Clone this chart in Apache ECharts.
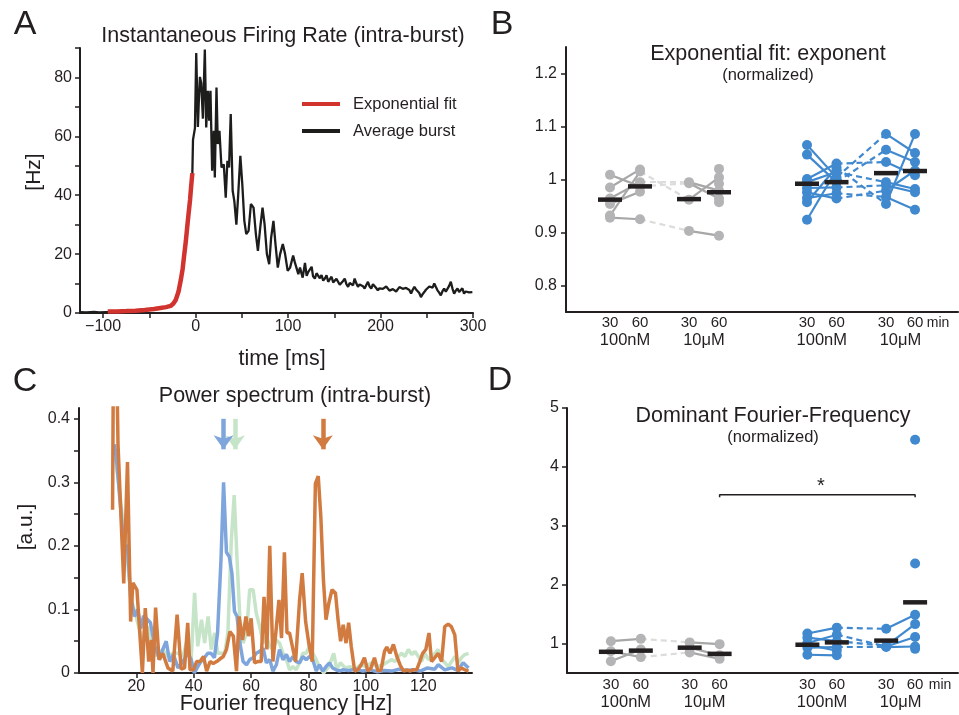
<!DOCTYPE html>
<html>
<head>
<meta charset="utf-8">
<script src="https://cdn.jsdelivr.net/npm/echarts@6.0.0/dist/echarts.min.js"></script>
<style>html,body{margin:0;padding:0;background:#fff}#chart{width:959px;height:715px}</style>
</head>
<body>
<div id="chart"></div>
<script>
// ---- panel A: average burst (ms, Hz) ----
const burstAvg = [
  [-125, 0.3], [-118, 0.2], [-110, 0.4], [-104, 0.2], [-97, 0.3], [-80, 0.5], [-60, 0.9], [-40, 1.6],
  [-27, 2.3], [-21.5, 4.4], [-16, 11.2], [-12.5, 19.2], [-9, 29.4], [-6, 38.4], [-3.5, 47.5],
  [-2.8, 58.8], [-0.7, 62.8], [0.7, 88.3], [2.5, 63.2], [3.5, 72], [4.7, 80.2], [6.1, 78], [7.9, 66],
  [10.0, 89.5], [11.5, 63], [13.3, 75.5], [14.7, 65.3], [16.1, 75.5], [17.9, 48.3], [19.7, 61.9],
  [20.8, 46], [22.6, 76.6], [24.0, 57.4], [25.8, 61.9], [28.0, 49.4], [30.5, 50.5], [32.6, 39.2],
  [34.4, 51.7], [36.2, 49.4], [38.0, 67.6], [40.1, 41.5], [41.9, 38], [44.1, 30], [45.9, 39.2],
  [48.4, 53.4], [50.5, 43.8], [52.7, 31.3], [54.8, 26.8], [57.3, 27.9], [59.8, 37], [62.7, 35.8],
  [65.2, 26.8], [67.4, 21.1], [69.9, 29], [72.4, 35.8], [74.6, 30.2], [77.1, 20], [79.6, 16.6],
  [81.7, 25.6], [84.2, 31.3], [86.4, 23.4], [88.9, 15.4], [91.4, 20], [94.3, 23.4], [96.8, 20],
  [99.6, 14.3], [102.2, 15.4], [105.5, 19.5], [107.5, 17], [109.3, 17.5], [111.1, 13.2], [112.9, 15.4],
  [115.8, 12.0], [118.3, 17], [120.1, 12.6], [121.9, 14], [123, 14.3], [125.5, 15.7], [127, 12.5],
  [129.0, 11.7], [130.8, 13.5], [132.6, 14], [134.4, 11.8], [136.2, 12.9], [138, 11], [139.8, 11.7],
  [141.6, 12.8], [143.4, 10.6], [145.2, 11.5], [147.0, 12.3], [148.8, 10.4], [150.5, 10.0], [152.3, 11.6],
  [154.1, 11.1], [155.9, 9.6], [157.7, 10.0], [159.5, 10.9], [161.3, 11.7], [163.1, 9.8], [164.9, 8.9],
  [166.7, 10.2], [168.5, 10.6], [170.3, 9.4], [172.0, 11.7], [173.8, 10.1], [175.6, 8.9], [177.4, 9.7],
  [179.2, 10.0], [181, 9.1], [182.8, 8.3], [184.6, 9.5], [186.4, 10.6], [188.2, 9], [190.0, 8.3],
  [191.8, 9.8], [193.5, 9.4], [195.3, 8.5], [197.1, 7.7], [198.9, 8.4], [200.7, 8.9], [202.5, 8.2],
  [204.3, 7.7], [206.1, 9.0], [207.9, 8.3], [209.7, 7.6], [211.5, 7.1], [213.3, 8.1], [215.1, 8.3],
  [216.9, 7.3], [218.6, 7.7], [220.4, 8.8], [222.2, 9.4], [224, 8.2], [225.8, 7.7], [227.6, 8.5],
  [229.4, 8.9], [231.2, 7.8], [233.0, 6.6], [234.8, 7.9], [236.6, 8.9], [238.4, 8.0], [240.1, 7.7],
  [241.9, 6.8], [243.7, 5.4], [245.5, 6.4], [247.3, 7.1], [249.1, 7.9], [250.9, 8.3], [252.7, 9.0],
  [254.5, 9.4], [256.3, 8.6], [258.1, 10.0], [259.9, 8.8], [261.6, 7.7], [263.4, 6.9], [265.2, 6.0],
  [267, 7.4], [268.8, 8.3], [270.6, 7.2], [272.4, 7.7], [274.2, 9.2], [276.0, 10.6], [277.8, 8.3],
  [279.6, 6.6], [281.4, 7.6], [283.2, 8.3], [285, 7.1], [286.7, 7.7], [288.5, 8.4], [290.3, 6.6],
  [292.1, 7.3], [293.9, 7.7], [295.7, 7.0], [297.5, 6.6], [299.3, 7.1]
];
const burstFit = [
  [-95, 0.5], [-85, 0.55], [-75, 0.65], [-65, 0.8], [-55, 1.05], [-45, 1.35], [-38, 1.7], [-32, 2.0],
  [-27, 2.4], [-24, 3.2], [-21.5, 4.4], [-18.5, 7.2], [-16, 11.2], [-14, 15], [-12.5, 19.2],
  [-10.5, 24.5], [-9, 29.4], [-7.5, 34], [-6, 38.4], [-4.8, 43], [-3.5, 47.5]
];
const aTickX = [-100, -50, 0, 50, 100, 150, 200, 250, 300];
const aLabelX = [-100, 0, 100, 200, 300];
const aTickY = [0, 10, 20, 30, 40, 50, 60, 70, 80, 90];
const aLabelY = [0, 20, 40, 60, 80];

// ---- panels B and D: per-subject values at [30min 100nM, 60min 100nM, 30min 10uM, 60min 10uM] ----
const expGray = [
  [1.009, 0.987, 0.993, 0.964],
  [0.985, 1.019, null, null],
  [0.964, 0.995, 0.995, 0.979],
  [0.954, 0.977, null, null],
  [0.932, 1.015, 0.962, 1.004],
  [0.928, 0.925, 0.903, 0.894],
  [null, null, null, 1.020],
  [null, null, null, 0.992],
  [null, null, null, 0.957]
];
const expBlue = [
  [1.065, 1.004, 1.086, 1.050],
  [1.047, 0.995, 1.056, 1.033],
  [1.001, 1.030, 1.033, 1.008],
  [0.995, 1.014, 0.995, 0.982],
  [0.984, 0.985, 0.989, 0.976],
  [0.976, 0.964, 0.979, 1.017],
  [0.965, 0.974, 0.967, 0.943],
  [0.957, 1.023, 0.954, 1.086],
  [0.924, 1.018, null, null]
];
const expMeans = [0.962, 0.987, 0.963, 0.976, 0.992, 0.995, 1.012, 1.016];

const freqGray = [
  [1.04, 1.08, 1.02, 0.99],
  [0.87, 0.77, 0.85, 0.74],
  [0.70, 0.90, null, null],
  [null, null, 0.93, 0.80]
];
const freqBlue = [
  [1.17, 1.27, 1.25, 1.49],
  [1.10, 1.04, 0.96, 1.33],
  [1.01, 1.15, 0.95, 1.11],
  [0.93, 0.94, 0.94, 0.95],
  [0.81, 0.80, null, null],
  [0.98, 0.88, null, null],
  [null, null, null, 4.46],
  [null, null, null, 2.36],
  [null, null, null, 0.91]
];
const freqMeans = [0.86, 0.88, 0.93, 0.825, 0.98, 1.02, 1.05, 1.70];
const sigPair = [3, 7];      // 10uM 60min (gray) vs 10uM 60min (blue)
const sigLevel = 3.525;

const minLabels = ['30', '60', '30', '60', '30', '60', '30', '60'];
const groupLabels = ['100nM', '10\u03bcM', '100nM', '10\u03bcM'];
const bTickY = [0.8, 0.9, 1, 1.1, 1.2];
const dTickY = [1, 2, 3, 4, 5];

// ---- panel C: power spectra [Hz, a.u.] ----
const specGreen = [
  [12.6, 0.34], [13.8, 0.3], [15, 0.25], [16.2, 0.22], [17.4, 0.15], [18.6, 0.11], [19.8, 0.09],
  [21, 0.07], [22.3, 0.047], [23.5, 0.06], [24.0, 0.073], [25.8, 0.026], [27.5, 0.03], [29.2, 0.037],
  [31, 0.026], [32.7, 0.031], [34.5, 0.031], [36.2, 0.026], [37.4, 0.047], [39.1, 0.021], [40.3, 0.126],
  [41.4, 0.042], [42.7, 0.084], [43.8, 0.047], [45.0, 0.089], [46.1, 0.037], [47.3, 0.063], [48.4, 0.031],
  [49.6, 0.031], [50.8, 0.031], [51.9, 0.063], [53.1, 0.209], [54.1, 0.28], [55.1, 0.178], [56.1, 0.084],
  [57.2, 0.047], [58.4, 0.063], [59.5, 0.131], [60.7, 0.131], [61.8, 0.094], [63.0, 0.073], [64.2, 0.047],
  [65.3, 0.058], [66.5, 0.042], [67.6, 0.037], [68.8, 0.052], [69.9, 0.047], [71.1, 0.031], [72.3, 0.021],
  [73.4, 0.005], [74.6, 0.01], [75.7, 0.005], [76.9, 0.016], [78.0, 0.031], [79.2, 0.031], [80.3, 0.042],
  [81.5, 0.031], [82.7, 0.021], [83.8, 0.01], [85.3, 0], [87.1, 0.01], [88.8, 0.031], [89.9, 0.005],
  [91.1, 0.016], [92.8, 0.008], [94.6, 0.01], [96.3, 0.005], [98.1, 0.013], [100, 0.01], [102, 0.016],
  [104, 0.01], [106, 0.013], [107.8, 0.018], [109, 0.021], [110.2, 0.018], [111.3, 0.026], [112.5, 0.031],
  [113.6, 0.026], [114.8, 0.037], [116, 0.029], [117.1, 0.034], [118.3, 0.026], [119.4, 0.018],
  [120.6, 0.031], [121.8, 0.021], [123, 0.026], [124.1, 0.031], [125.2, 0.037], [126.4, 0.021],
  [127.6, 0.016], [128.7, 0.01], [129.9, 0.018], [131, 0.026], [132.2, 0.016], [133.3, 0.024],
  [134.5, 0.029], [135.8, 0.031]
];
const specBlue = [
  [12.4, 0.36], [13.2, 0.33], [14.5, 0.26], [15.6, 0.2], [16.9, 0.2], [18.0, 0.12], [19.4, 0.089],
  [20.5, 0.1], [21.5, 0.07], [22.5, 0.09], [23.5, 0.086], [24.9, 0.079], [26.4, 0.042], [28.1, 0.021],
  [29.2, 0.037], [30.4, 0.05], [31.6, 0.018], [32.9, 0.029], [34.5, 0.008], [36.2, 0.018], [37.9, 0.031],
  [39.1, 0.021], [40.2, 0], [41.4, 0.01], [42.5, 0.018], [43.7, 0.024], [44.9, 0.031], [46.0, 0.031],
  [47.2, 0.024], [48.3, 0.063], [49.5, 0.178], [50.4, 0.30], [51.4, 0.19], [52.4, 0.183], [53.3, 0.157],
  [54.2, 0.097], [55.1, 0.089], [56.1, 0.047], [57.2, 0.018], [58.4, 0.013], [59.5, 0.021], [60.7, 0.024],
  [61.8, 0.031], [63.0, 0.034], [64.2, 0.039], [65.3, 0.016], [66.5, 0.021], [67.6, 0.003], [68.8, 0.013],
  [69.9, 0.037], [71.1, 0.021], [72.3, 0.029], [73.4, 0.018], [74.6, 0.026], [75.7, 0.018], [76.9, 0.016],
  [78.0, 0.026], [79.2, 0.021], [80.3, 0.026], [81.5, 0.021], [82.7, 0.003], [83.8, 0.013], [85.0, 0.003],
  [86.1, 0.01], [87.3, 0.016], [88.4, 0.008], [89.6, 0.005], [90.8, 0.003], [91.9, 0.005], [94, 0.004],
  [96.5, 0.006], [99, 0.003], [101.5, 0.005], [104, 0.002], [106.5, 0.004], [109, 0.003], [111.5, 0.006],
  [114, 0.004], [116.5, 0.005], [119, 0.003], [121.5, 0.008], [124, 0.006], [125.2, 0.013], [127.5, 0.005],
  [130, 0.008], [132, 0.004], [133.9, 0.016], [135.8, 0.008]
];
const specOrange = [
  [11.7, 0.257], [12.0, 0.5], [13.1, 0.5], [13.6, 0.36], [15.6, 0.141], [16.9, 0.332], [18.0, 0.081],
  [18.8, 0.142], [20.2, 0.131], [22.1, 0], [23.1, 0.102], [24.3, 0.018], [25.2, 0.052], [25.8, 0],
  [26.7, 0.103], [27.9, 0.021], [29.2, 0.031], [31.0, 0.008], [32.7, 0.003], [34.2, 0.092], [35.6, 0.006],
  [36.8, 0.008], [37.9, 0.079], [38.7, 0.005], [39.9, 0.005], [41.0, 0.018], [42.2, 0.018], [43.4, 0.026],
  [44.5, 0.003], [45.7, 0.018], [46.8, 0.015], [48.0, 0.018], [49.1, 0.022], [50.3, 0.026], [51.4, 0.037],
  [52.6, 0.065], [53.8, 0.058], [54.9, 0.003], [55.8, 0.089], [57.0, 0.052], [58.2, 0.089], [59.1, 0.058],
  [60.0, 0.086], [61.2, 0.016], [62.3, 0.018], [63.5, 0.018], [64.5, 0.12], [65.5, 0.037], [66.5, 0.2],
  [67.6, 0.018], [68.6, 0.063], [69.7, 0.115], [70.6, 0.055], [71.6, 0.19], [72.5, 0.063], [73.4, 0.063],
  [74.6, 0.037], [75.5, 0.018], [76.9, 0.115], [77.8, 0.157], [79.0, 0.081], [80.1, 0.047], [81.3, 0.018],
  [82.4, 0.298], [83.4, 0.31], [84.3, 0.246], [85.2, 0.147], [86.1, 0.084], [87.1, 0.11], [88.2, 0.131],
  [89.4, 0.126], [90.3, 0.084], [91.2, 0.05], [92.1, 0.076], [93.1, 0.047], [94.0, 0.079], [94.9, 0.042],
  [96.1, 0.003], [97.2, 0.005], [98.4, 0.013], [99.5, 0.024], [100.7, 0.003], [101.8, 0.008], [103.0, 0.024],
  [104.2, 0.003], [105.3, 0.005], [106.5, 0.034], [107.3, 0.041], [108.4, 0.031], [109.6, 0.045],
  [110.8, 0.026], [111.9, 0.013], [113.1, 0.003], [114.2, 0.005], [115.4, 0.003], [116.5, 0.005],
  [117.7, 0.005], [118.8, 0.018], [119.8, 0.031], [120.9, 0.037], [122.0, 0.063], [122.9, 0.018],
  [124.0, 0.024], [125.2, 0.031], [126.4, 0.018], [127.5, 0.073], [128.7, 0.077], [129.8, 0.073],
  [131.0, 0.06], [132.1, 0.003], [133.3, 0.008], [134.5, 0.005], [135.8, 0.003]
];
const peakHz = { blue: 50.4, green: 54.4, orange: 85.0 };
const cTickX = [20, 40, 60, 80, 100, 120];
const cTickY = [0, 0.05, 0.1, 0.15, 0.2, 0.25, 0.3, 0.35, 0.4];
const cLabelY = [0, 0.1, 0.2, 0.3, 0.4];

// ---- layout / style ----
const FONT = '"Liberation Sans", Arial, Helvetica, sans-serif';
const INK = '#231f20';
const slotX = [44, 74, 123, 153, 241, 270.5, 320, 349];   // x positions of the 8 conditions (B, D)
const groupX = [0, 2, 4, 6].map(i => (slotX[i] + slotX[i + 1]) / 2);
const C_ORANGE = '#d27b41', C_BLUE = '#7fa6dc', C_GREEN = '#c6e4c8';
const P_BLUE = '#4189cf', P_GRAY = '#b4b4b6', L_GRAY = '#a7a7a7', D_GRAY = '#dcdcdc';

const chart = echarts.init(document.getElementById('chart'));

function valAxis(o) {
  return Object.assign({
    type: 'value', splitLine: { show: false },
    axisLine: { show: true, onZero: false, lineStyle: { color: INK, width: 2 } },
    axisTick: { show: true, length: 5, lineStyle: { color: INK, width: 1.5 } },
    axisLabel: { color: INK, fontSize: 16, fontFamily: FONT }
  }, o);
}
function nearestIdx(arr, v) {
  let b = 0;
  arr.forEach((a, i) => { if (Math.abs(a - v) < Math.abs(arr[b] - v)) b = i; });
  return b;
}
const fmtMinus = v => (v < 0 ? '\u2212' + Math.abs(v) : String(v));

function slotAxis(grid, margin) {
  return [
    valAxis({ gridIndex: grid, min: 0, max: 392, axisTick: { show: false },
      axisLabel: { customValues: slotX, color: INK, fontSize: 15, fontFamily: FONT, margin: margin,
        formatter: v => minLabels[nearestIdx(slotX, v)] } }),
    valAxis({ gridIndex: grid, min: 0, max: 392, position: 'bottom', axisLine: { show: false }, axisTick: { show: false },
      axisLabel: { customValues: groupX, color: INK, fontSize: 16.5, fontFamily: FONT, margin: margin + 17,
        formatter: v => groupLabels[nearestIdx(groupX, v)] } })
  ];
}

function subjectSeries(rows, off, xi, yi, ptColor, lineColor, dashColor) {
  const solid = [], dashed = [], pts = [];
  rows.forEach(r => {
    r.forEach((v, k) => { if (v != null) pts.push([slotX[off + k], v]); });
    [[0, 1, solid], [1, 2, dashed], [2, 3, solid]].forEach(([a, b, arr]) => {
      if (r[a] != null && r[b] != null) arr.push({ coords: [[slotX[off + a], r[a]], [slotX[off + b], r[b]]] });
    });
  });
  return [
    { type: 'lines', coordinateSystem: 'cartesian2d', xAxisIndex: xi, yAxisIndex: yi, data: dashed, silent: true,
      lineStyle: { color: dashColor, width: 2.2, type: [6, 4], opacity: 1, curveness: 0 }, z: 2 },
    { type: 'lines', coordinateSystem: 'cartesian2d', xAxisIndex: xi, yAxisIndex: yi, data: solid, silent: true,
      lineStyle: { color: lineColor, width: 2.2, opacity: 1, curveness: 0 }, z: 3 },
    { type: 'scatter', xAxisIndex: xi, yAxisIndex: yi, data: pts, symbolSize: 10, silent: true,
      itemStyle: { color: ptColor, opacity: 1 }, z: 4 }
  ];
}
function meanSeries(means, xi, yi) {
  return { type: 'scatter', xAxisIndex: xi, yAxisIndex: yi, data: means.map((m, i) => [slotX[i], m]),
    symbol: 'rect', symbolSize: [24, 4.5], itemStyle: { color: INK, opacity: 1 }, silent: true, z: 6 };
}
function specSeries(name, data, color, hz, z) {
  return { name, type: 'line', xAxisIndex: 2, yAxisIndex: 2, data, symbol: 'none', color,
    lineStyle: { color, width: 3.5 }, z, silent: true,
    markLine: { silent: true, symbol: ['none', 'arrow'], symbolSize: [15, 14], animation: false,
      label: { show: false }, lineStyle: { color, width: 4.5, type: 'solid', opacity: 1 },
      data: [[{ coord: [hz, 0.4] }, { coord: [hz, 0.352] }]] } };
}
function txt(text, x, y, size, rot) {
  return { type: 'text', x, y, rotation: rot || 0, silent: true, z: 20,
    style: { text, font: size + 'px ' + FONT, fill: INK, textAlign: 'center', textVerticalAlign: 'middle' } };
}

const [bX, bGroupX] = slotAxis(1, 3);
const [dX, dGroupX] = slotAxis(3, 4);

chart.setOption({
  animation: false,
  backgroundColor: '#fff',
  textStyle: { fontFamily: FONT },
  grid: [
    { left: 80, top: 48, width: 393, height: 265 },
    { left: 566, top: 47, width: 392, height: 265 },
    { left: 79, top: 408, width: 393, height: 265 },
    { left: 567, top: 408, width: 391, height: 265 }
  ],
  xAxis: [
    valAxis({ gridIndex: 0, min: -125, max: 300, axisTick: { show: true, length: 5, customValues: aTickX, lineStyle: { color: INK, width: 1.5 } },
      axisLabel: { customValues: aLabelX, formatter: fmtMinus, color: INK, fontSize: 16, fontFamily: FONT, margin: 6 } }),
    bX,
    valAxis({ gridIndex: 2, min: 0, max: 137, axisTick: { show: true, length: 5, customValues: cTickX, lineStyle: { color: INK, width: 1.5 } },
      axisLabel: { customValues: cTickX, color: INK, fontSize: 16, fontFamily: FONT, margin: 6 } }),
    dX,
    bGroupX,
    dGroupX
  ],
  yAxis: [
    valAxis({ gridIndex: 0, min: 0, max: 90, axisTick: { show: true, length: 5, customValues: aTickY, lineStyle: { color: INK, width: 1.5 } },
      axisLabel: { customValues: aLabelY, color: INK, fontSize: 16, fontFamily: FONT, margin: 8 } }),
    valAxis({ gridIndex: 1, min: 0.75, max: 1.25, axisTick: { show: true, length: 5, customValues: bTickY, lineStyle: { color: INK, width: 1.5 } },
      axisLabel: { customValues: bTickY, color: INK, fontSize: 16, fontFamily: FONT, margin: 9 } }),
    valAxis({ gridIndex: 2, min: 0, max: 0.417, axisTick: { show: true, length: 5, customValues: cTickY, lineStyle: { color: INK, width: 1.5 } },
      axisLabel: { customValues: cLabelY, color: INK, fontSize: 16, fontFamily: FONT, margin: 9 } }),
    valAxis({ gridIndex: 3, min: 0.5, max: 5, axisTick: { show: true, length: 5, customValues: dTickY, lineStyle: { color: INK, width: 1.5 } },
      axisLabel: { customValues: dTickY, color: INK, fontSize: 16, fontFamily: FONT, margin: 8 } })
  ],
  legend: {
    left: 297, top: 90, orient: 'vertical', icon: 'rect', itemWidth: 38, itemHeight: 4, itemGap: 9,
    selectedMode: false, data: ['Exponential fit', 'Average burst'],
    textStyle: { color: INK, fontSize: 16.5, fontFamily: FONT, padding: [0, 0, 0, 8], lineHeight: 18 }
  },
  series: [
    { name: 'Average burst', type: 'line', xAxisIndex: 0, yAxisIndex: 0, data: burstAvg, symbol: 'none',
      color: '#1d1d1b', lineStyle: { color: '#1d1d1b', width: 2.3 }, z: 3, silent: true },
    { name: 'Exponential fit', type: 'line', xAxisIndex: 0, yAxisIndex: 0, data: burstFit, symbol: 'none',
      color: '#d1332e', lineStyle: { color: '#d1332e', width: 4.5, cap: 'butt' }, z: 4, silent: true },

    ...subjectSeries(expGray, 0, 1, 1, P_GRAY, L_GRAY, D_GRAY),
    ...subjectSeries(expBlue, 4, 1, 1, P_BLUE, P_BLUE, P_BLUE),
    meanSeries(expMeans, 1, 1),

    specSeries('green', specGreen, C_GREEN, peakHz.green, 2),
    specSeries('blue', specBlue, C_BLUE, peakHz.blue, 3),
    specSeries('orange', specOrange, C_ORANGE, peakHz.orange, 4),

    ...subjectSeries(freqGray, 0, 3, 3, P_GRAY, L_GRAY, D_GRAY),
    ...subjectSeries(freqBlue, 4, 3, 3, P_BLUE, P_BLUE, P_BLUE),
    meanSeries(freqMeans, 3, 3),
    { type: 'line', xAxisIndex: 3, yAxisIndex: 3, symbol: 'none', silent: true, z: 5,
      lineStyle: { color: INK, width: 1.5 },
      data: [[slotX[sigPair[0]], sigLevel - 0.04], [slotX[sigPair[0]], sigLevel],
             [slotX[sigPair[1]], sigLevel], [slotX[sigPair[1]], sigLevel - 0.04]] }
  ],
  graphic: [
    txt('A', 25, 25, 34), txt('B', 502, 25, 34), txt('C', 25, 382, 34), txt('D', 500, 381, 34),
    txt('Instantaneous Firing Rate (intra-burst)', 283, 36, 21.5),
    txt('time [ms]', 282, 359, 21.5),
    txt('[Hz]', 34, 172, 21, Math.PI / 2),
    txt('Exponential fit: exponent', 768, 54, 21.5),
    txt('(normalized)', 768, 75, 16.5),
    txt('min', 938, 323, 14),
    txt('Power spectrum (intra-burst)', 295, 396, 21.5),
    txt('[a.u.]', 26, 527, 21, Math.PI / 2),
    txt('Fourier frequency [Hz]', 286, 704, 21.5),
    txt('Dominant Fourier-Frequency', 773, 416, 21.5),
    txt('(normalized)', 773, 437, 16.5),
    txt('min', 940, 685, 14),
    txt('*', 821, 486, 20)
  ]
});
</script>
</body>
</html>
